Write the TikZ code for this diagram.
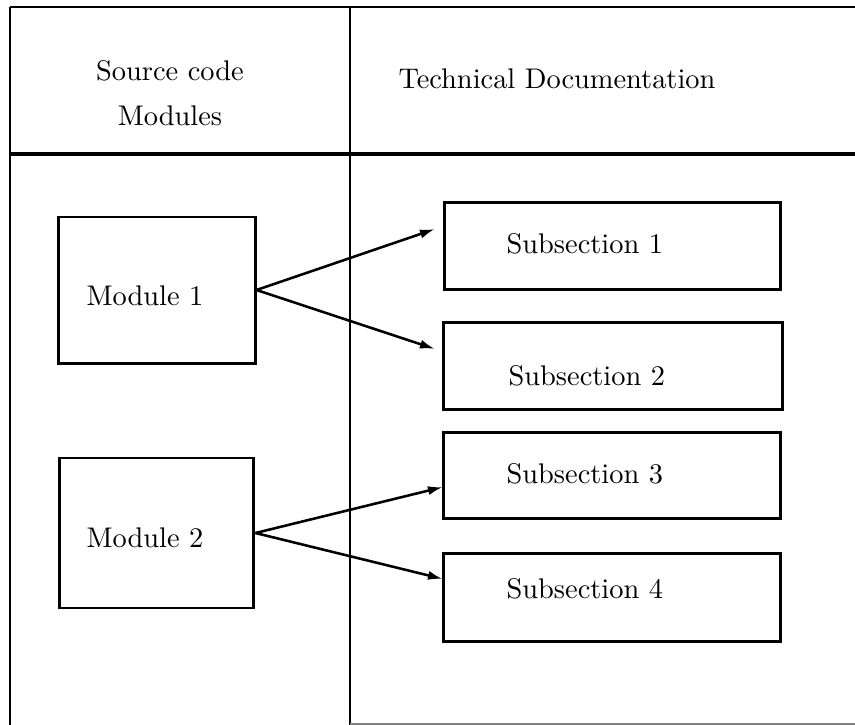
\documentclass[tikz,border=0pt]{standalone}
\usepackage{tikz}
\usetikzlibrary{arrows.meta}

\begin{document}
\begin{tikzpicture}[x=0.352pt, y=-0.352pt,
	box/.style={draw, line width=1.05pt, inner sep=0pt},
	lbl/.style={inner sep=0pt, anchor=base west},
	link/.style={line width=0.9pt, -{Latex[length=5.3pt, width=3.2pt]}}]

	\useasboundingbox (0,0) rectangle (855,725);

	% table frame
	\draw[line width=1.05pt] (10,7) -- (855,7);
	\draw[line width=1.75pt] (10,154) -- (855,154);
	\draw[line width=1.05pt] (10,7) -- (10,725);
	\draw[line width=0.8pt] (350,7) -- (350,725);
	\draw[line width=0.5pt, gray] (350,724) -- (855,724);

	\node[inner sep=0pt, anchor=north, align=center] (hsrc) at (170,60) {Source code\\[3.8pt]Modules};
	\node[lbl] (hdoc) at (398,88) {Technical Documentation};

	% source code modules
	\node[box, minimum width=69pt, minimum height=51.4pt] (mod1) at (157,290) {};
	\node[box, minimum width=68.6pt, minimum height=52.8pt] (mod2) at (156.5,533) {};
	\node[lbl] (lmod1) at (86,305) {Module 1};
	\node[lbl] (lmod2) at (86,547) {Module 2};

	% subsections
	\node[box, minimum width=118.6pt, minimum height=30.3pt] (sub1) at (612.5,246) {};
	\node[box, minimum width=119pt, minimum height=30.3pt] (sub2) at (613,366) {};
	\node[box, minimum width=118.3pt, minimum height=30.6pt] (sub3) at (612,475.5) {};
	\node[box, minimum width=118.3pt, minimum height=31.3pt] (sub4) at (612,597.5) {};
	\node[lbl] (lsub1) at (506,253) {Subsection 1};
	\node[lbl] (lsub2) at (508,385) {Subsection 2};
	\node[lbl] (lsub3) at (506,483) {Subsection 3};
	\node[lbl] (lsub4) at (506,598) {Subsection 4};

	\coordinate (in1) at (435,229);
	\coordinate (in2) at (435,349);
	\coordinate (in3) at (443,487);
	\coordinate (in4) at (443,579);
	\draw[link] (mod1.east) -- (in1);
	\draw[link] (mod1.east) -- (in2);
	\draw[link] (mod2.east) -- (in3);
	\draw[link] (mod2.east) -- (in4);

\end{tikzpicture}
\end{document}
